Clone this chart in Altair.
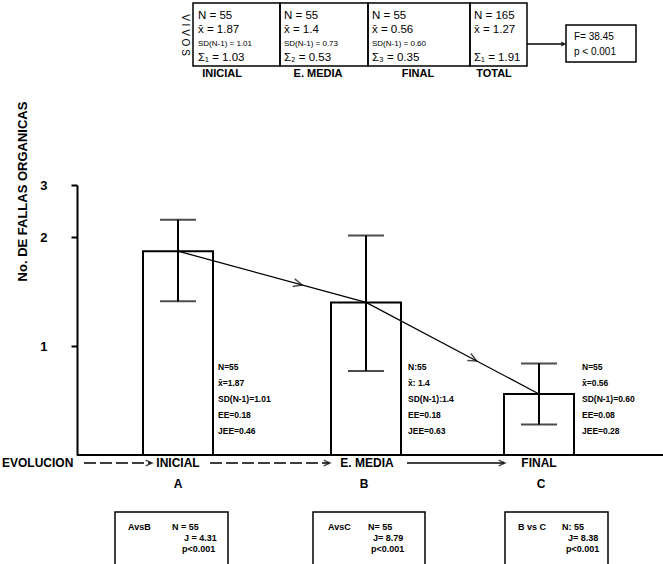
import altair as alt
import pandas as pd
import numpy as np

# ---------------- data ----------------
stage_idx = [0, 1, 2]
stages = ["INICIAL", "E. MEDIA", "FINAL"]
letters = ["A", "B", "C"]
means = [1.87, 1.4, 0.56]
jee = [0.46, 0.63, 0.28]

bar_notes = [
    ["N=55", "x̄=1.87", "SD(N-1)=1.01", "EE=0.18", "JEE=0.46"],
    ["N:55", "x̄: 1.4", "SD(N-1):1.4", "EE=0.18", "JEE=0.63"],
    ["N=55", "x̄=0.56", "SD(N-1)=0.60", "EE=0.08", "JEE=0.28"],
]
table_cols = [
    ["N = 55", "x̄ = 1.87", "SD(N-1) = 1.01", "Σ₁ = 1.03"],
    ["N = 55", "x̄ = 1.4", "SD(N-1) = 0.73", "Σ₂ = 0.53"],
    ["N = 55", "x̄ = 0.56", "SD(N-1) = 0.60", "Σ₃ = 0.35"],
    ["N = 165", "x̄ = 1.27", "", "Σ₁ = 1.91"],
]
table_heads = ["INICIAL", "E. MEDIA", "FINAL", "TOTAL"]
f_box = ["F= 38.45", "p  < 0.001"]
comparisons = [
    ["AvsB", "N = 55", "J = 4.31", "p<0.001"],
    ["AvsC", "N= 55", "J= 8.79", "p<0.001"],
    ["B vs C", "N: 55", "J= 8.38", "p<0.001"],
]

# ---------------- layout (pixels) ----------------
W, H = 663, 564
PADL = 77
PLOT_W, PLOT_H = W - PADL, 455
X_RANGE = [101, 289, 462]
Y_DOMAIN = [0, 1, 2, 3]
Y_RANGE = [455, 346, 237, 185]
FONT = "Liberation Sans"

xs = alt.Scale(domain=stage_idx, range=X_RANGE, nice=False, zero=False, padding=0)
ys = alt.Scale(domain=Y_DOMAIN, range=Y_RANGE, nice=False, zero=False, padding=0)

df = pd.DataFrame({
    "idx": stage_idx, "mean": means,
    "lo": [m - j for m, j in zip(means, jee)],
    "hi": [m + j for m, j in zip(means, jee)],
})
caps = pd.DataFrame({"idx": stage_idx * 2, "v": list(df["lo"]) + list(df["hi"])})

def px(xd):
    return np.interp(xd, stage_idx, X_RANGE)

def py(yd):
    return np.interp(yd, Y_DOMAIN, Y_RANGE)

heads = []
for i, t in [(0, 0.66), (1, 0.64)]:
    xd = stage_idx[i] + t * (stage_idx[i + 1] - stage_idx[i])
    yd = means[i] + t * (means[i + 1] - means[i])
    ang = np.degrees(np.arctan2(py(means[i + 1]) - py(means[i]),
                                px(stage_idx[i + 1]) - px(stage_idx[i])))
    heads.append({"idx": xd, "mean": yd, "ang": float(ang)})
heads = pd.DataFrame(heads)

XN = alt.X("idx:Q", scale=xs, axis=None)

bars = alt.Chart(df).mark_bar(size=70, fill="white", stroke="black", strokeWidth=2).encode(
    x=XN,
    y=alt.Y("mean:Q", scale=ys, axis=alt.Axis(
        values=[1, 2, 3], format="d", grid=False, domainColor="black", domainWidth=2,
        tickColor="black", tickWidth=2, tickSize=6, labelFont=FONT,
        labelFontWeight="bold", labelFontSize=13, labelColor="black",
        labelPadding=24, title="No. DE FALLAS ORGANICAS", titleFont=FONT,
        titleFontSize=13, titleFontWeight="bold", titleColor="black",
        titleAngle=270, titleX=-55, titleY=191, titleAlign="center",
        titleBaseline="middle")),
)
err = alt.Chart(df).mark_rule(color="black", strokeWidth=2).encode(
    x=XN, y=alt.Y("lo:Q", scale=ys), y2="hi:Q")
cap = alt.Chart(caps).mark_tick(orient="horizontal", size=36, thickness=2, color="black").encode(
    x=XN, y=alt.Y("v:Q", scale=ys))
trend = alt.Chart(df).mark_line(color="black", strokeWidth=1.3).encode(
    x=XN, y=alt.Y("mean:Q", scale=ys))
chev = "M-1,-0.45L0,0L-1,0.45"
trend_heads = alt.Chart(heads).mark_point(shape=chev, size=300, filled=False, color="black", strokeWidth=1.5).encode(
    x=XN, y=alt.Y("mean:Q", scale=ys), angle=alt.Angle("ang:Q", scale=None))

# ---------- annotation helpers (pixel layout) ----------
def P(xpage):
    return xpage - PADL

def texts(rows, size, weight="normal", align="left", angle=0):
    d = pd.DataFrame(rows, columns=["px", "py", "t"])
    return alt.Chart(d).mark_text(align=align, baseline="middle", fontSize=size, fontWeight=weight,
                                  font=FONT, angle=angle, color="black").encode(
        x=alt.X("px:Q", scale=None, axis=None), y=alt.Y("py:Q", scale=None, axis=None), text="t:N")

def boxes(rows, sw=1.5):
    d = pd.DataFrame(rows, columns=["x1", "x2", "y1", "y2"])
    return alt.Chart(d).mark_rect(fill="transparent", stroke="black", strokeWidth=sw).encode(
        x=alt.X("x1:Q", scale=None, axis=None), x2="x2:Q",
        y=alt.Y("y1:Q", scale=None, axis=None), y2="y2:Q")

def rules(rows, dash=None, sw=1.3):
    d = pd.DataFrame(rows, columns=["x1", "x2", "y1"])
    kw = dict(color="black", strokeWidth=sw)
    if dash:
        kw["strokeDash"] = dash
    return alt.Chart(d).mark_rule(**kw).encode(
        x=alt.X("x1:Q", scale=None, axis=None), x2="x2:Q",
        y=alt.Y("y1:Q", scale=None, axis=None))

def arrowheads(rows, size=160):
    d = pd.DataFrame(rows, columns=["px", "py"])
    return alt.Chart(d).mark_point(shape=chev, size=size, filled=False, color="black", strokeWidth=1.5).encode(
        x=alt.X("px:Q", scale=None, axis=None), y=alt.Y("py:Q", scale=None, axis=None))

layers = [bars, err, cap, trend, trend_heads]

# baseline
layers.append(rules([[P(77), P(663), 455]], sw=1.8))

# top table
col_edges = [193, 280, 368, 470, 527]
layers.append(boxes([[P(col_edges[i]), P(col_edges[i + 1]), 3, 66] for i in range(4)]))
row_y = [16, 30, 44, 58]
col_x = [198, 284, 372, 474]
big, small = [], []
for c, col in enumerate(table_cols):
    for r, t in enumerate(col):
        if not t:
            continue
        (small if r == 2 else big).append([P(col_x[c]), row_y[r], t])
layers.append(texts(big, 11.5))
layers.append(texts(small, 8))
head_x = [222, 318, 418, 494]
layers.append(texts([[P(head_x[i]), 74, table_heads[i]] for i in range(4)], 11, "bold", "center"))
layers.append(texts([[P(185), 35, "V I V O S"]], 10, "normal", "center", 90))

# F box
layers.append(boxes([[P(566), P(636), 25, 62]]))
layers.append(rules([[P(527), P(564), 44]], sw=1.3))
layers.append(arrowheads([[P(565), 44]], size=60))
layers.append(texts([[P(574), 37, f_box[0]], [P(574), 52, f_box[1]]], 10))

# bar notes
note_x = [218, 408, 582]
note_y = [367, 383, 399, 415, 431]
rows = []
for b in range(3):
    for r, t in enumerate(bar_notes[b]):
        rows.append([P(note_x[b]), note_y[r], t])
layers.append(texts(rows, 8.5, "bold"))

# evolution row
layers.append(texts([[P(2), 463, "EVOLUCION"]], 12, "bold"))
stage_x = [178, 367, 539]
layers.append(texts([[P(stage_x[i]), 463, stages[i]] for i in range(3)], 12, "bold", "center"))
letter_x = [178, 364, 541]
layers.append(texts([[P(letter_x[i]), 484, letters[i]] for i in range(3)], 12, "bold", "center"))
layers.append(rules([[P(84), P(151), 463], [P(210), P(329), 463]], dash=[12, 4]))
layers.append(rules([[P(407), P(504), 463]]))
layers.append(arrowheads([[P(152), 463], [P(330), 463], [P(505), 463]]))

# comparison boxes
box_x = [[115, 228], [313, 425], [505, 608]]
layers.append(boxes([[P(a), P(b), 512, 580] for a, b in box_x]))
cmp_rows = []
cmp_pos = [
    [(128, 527), (172, 527), (184, 538), (182, 549)],
    [(328, 527), (368, 527), (373, 538), (371, 549)],
    [(518, 527), (562, 527), (568, 538), (566, 549)],
]
for b in range(3):
    for k, t in enumerate(comparisons[b]):
        xq, yq = cmp_pos[b][k]
        cmp_rows.append([P(xq), yq, t])
layers.append(texts(cmp_rows, 9, "bold"))

chart = alt.layer(*layers).properties(
    width=PLOT_W, height=PLOT_H,
    autosize=alt.AutoSizeParams(type="none"),
    padding={"left": PADL, "top": 0, "right": 0, "bottom": H - PLOT_H},
    background="white",
).configure_view(stroke=None)

chart.save("out.html", embed_options={"renderer": "svg", "actions": False})
